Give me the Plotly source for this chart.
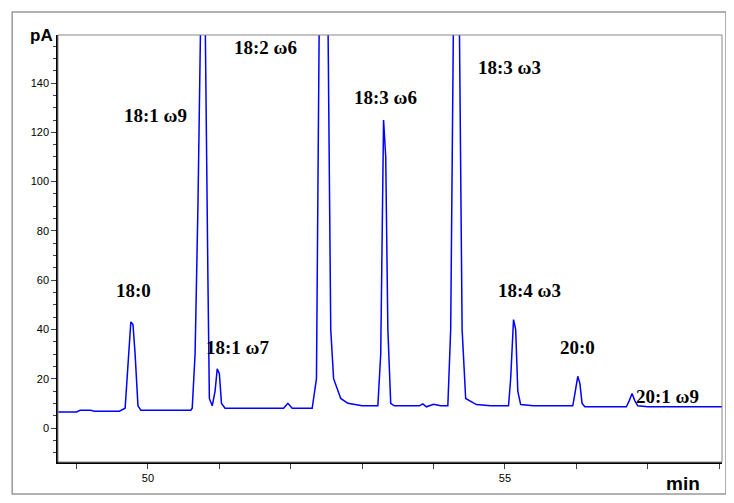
import plotly.graph_objects as go

# retention time (min) and detector signal (pA)
times = [48.74, 49.0, 49.05, 49.2, 49.25, 49.6, 49.68, 49.72, 49.76, 49.79, 49.82, 49.86, 49.9,
         50.6, 50.62, 50.66, 50.7, 50.74, 50.80, 50.84, 50.86, 50.9, 50.94, 50.97, 51.0, 51.03, 51.08,
         51.9, 51.96, 52.02, 52.3, 52.36, 52.4, 52.52, 52.56, 52.6, 52.7, 52.8, 53.0,
         53.22, 53.26, 53.3, 53.33, 53.36, 53.4, 53.45, 53.8, 53.85, 53.9, 54.0, 54.1, 54.2,
         54.24, 54.28, 54.36, 54.4, 54.45, 54.6, 54.8, 55.05, 55.08, 55.12, 55.15, 55.18, 55.22,
         55.4, 55.95, 55.98, 56.02, 56.05, 56.08, 56.12, 56.7, 56.74, 56.78, 56.82, 56.86, 57.0, 58.04]
signal = [6.5, 6.5, 7.2, 7.2, 6.8, 6.8, 8, 25, 43, 42, 30, 9, 7.2,
          7.2, 8, 30, 90, 170, 170, 60, 12, 9, 15, 24, 22, 10, 8,
          8, 10, 8, 8, 20, 170, 170, 40, 20, 12, 10, 9,
          9, 30, 125, 110, 40, 10, 9, 9, 9.8, 8.6, 9.6, 9, 9,
          40, 170, 170, 40, 12, 9.5, 9, 9, 20, 44, 40, 15, 9.5,
          9, 9, 14, 21, 18, 10, 8.6, 8.6, 11, 14, 11, 9, 8.6, 8.6]

labels = ["18:0", "18:1 ω9", "18:1 ω7", "18:2 ω6", "18:3 ω6", "18:3 ω3", "18:4 ω3", "20:0", "20:1 ω9"]
label_x = [49.8, 50.1, 51.26, 51.64, 53.32, 55.07, 55.35, 56.02, 57.28]
label_y = [56, 127, 32.5, 154.6, 134, 146.5, 56, 32.5, 12.6]

fig = go.Figure(go.Scatter(x=times, y=signal, mode='lines',
                           line=dict(color='#0000ff', width=1.5), hoverinfo='skip'))

for t, lx, ly in zip(labels, label_x, label_y):
    fig.add_annotation(x=lx, y=ly, text='<b>' + t + '</b>', showarrow=False,
                       font=dict(family='Liberation Serif', size=19, color='black'))

fig.add_annotation(xref='paper', yref='paper', x=-0.005, y=1.0, xanchor='right', yanchor='middle',
                   text='<b>pA</b>', showarrow=False,
                   font=dict(family='Liberation Sans', size=17, color='black'))
fig.add_annotation(xref='paper', yref='paper', x=0.97, y=-0.02, xanchor='right', yanchor='top',
                   text='<b>min</b>', showarrow=False,
                   font=dict(family='Liberation Sans', size=19, color='black'))

# outer grey frame and plot frame
fig.add_shape(type='rect', xref='paper', yref='paper', x0=-0.069, x1=1.006, y0=-0.075, y1=1.054,
              line=dict(color='#999999', width=1.5))
fig.add_shape(type='rect', xref='paper', yref='paper', x0=0, x1=1, y0=0, y1=1,
              line=dict(color='#888888', width=1))

fig.update_xaxes(range=[48.74, 58.04], tickvals=[50, 55], ticktext=['50', '55'],
                 ticks='outside', ticklen=5, showgrid=False, zeroline=False,
                 showline=True, linecolor='black', linewidth=1.5,
                 minor=dict(dtick=1, tick0=48, ticks='outside', ticklen=5),
                 tickfont=dict(family='Liberation Sans', size=11, color='black'))
fig.update_yaxes(range=[-13.8, 159.5], dtick=20, ticks='outside', ticklen=5,
                 showgrid=False, zeroline=False, showline=True, linecolor='black', linewidth=1.5,
                 minor=dict(dtick=5, ticks='outside', ticklen=3),
                 tickfont=dict(family='Liberation Sans', size=11, color='black'))

fig.update_layout(width=734, height=503, showlegend=False,
                  margin=dict(l=50, r=20, t=27, b=49),
                  plot_bgcolor='white', paper_bgcolor='white')

fig.write_html("out.html")
